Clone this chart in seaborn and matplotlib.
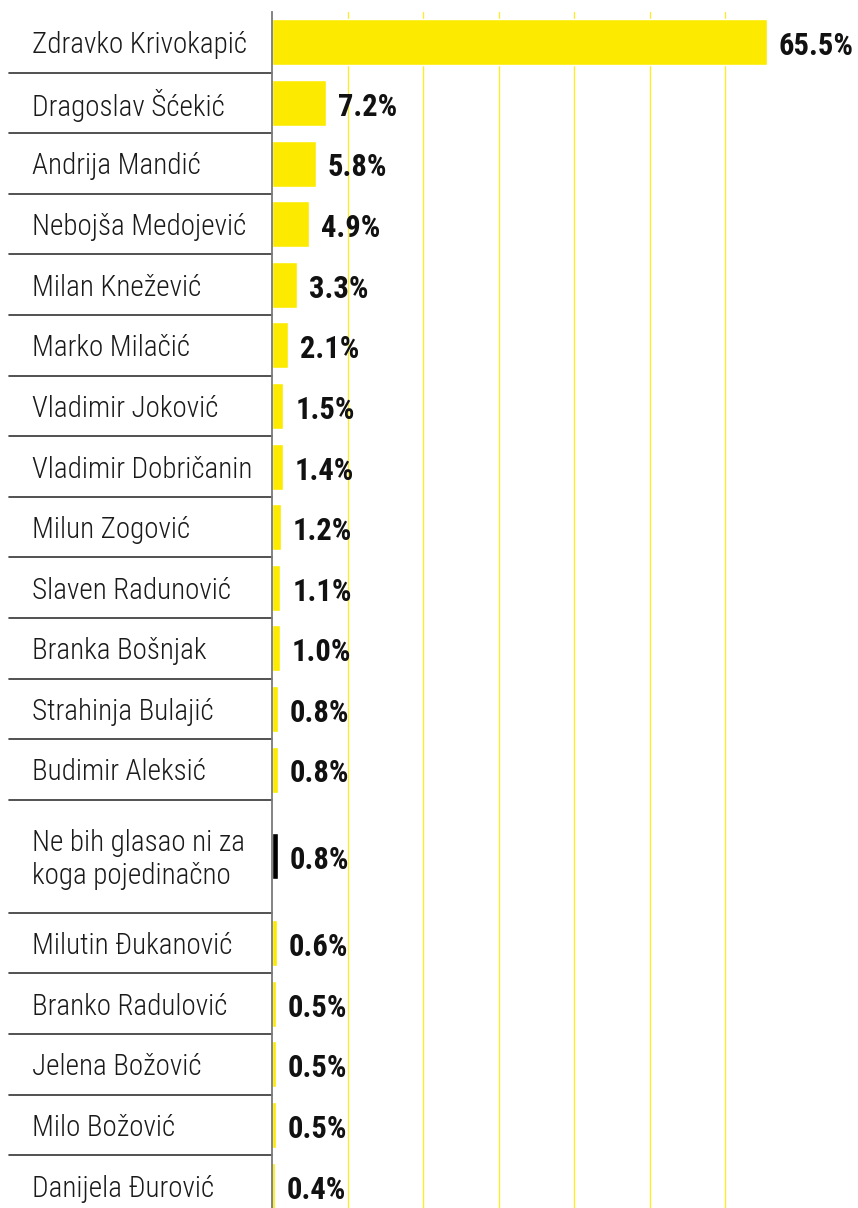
import matplotlib
matplotlib.use("Agg")
import matplotlib.pyplot as plt
import matplotlib.transforms as mtransforms
from matplotlib import font_manager
import numpy as np
import pandas as pd
import seaborn as sns

# ---------------- data ----------------
names = [
    "Zdravko Krivokapić", "Dragoslav Šćekić", "Andrija Mandić", "Nebojša Medojević",
    "Milan Knežević", "Marko Milačić", "Vladimir Joković", "Vladimir Dobričanin",
    "Milun Zogović", "Slaven Radunović", "Branka Bošnjak", "Strahinja Bulajić",
    "Budimir Aleksić", "Ne bih glasao ni za\nkoga pojedinačno", "Milutin Đukanović",
    "Branko Radulović", "Jelena Božović", "Milo Božović", "Danijela Đurović",
]
values = [65.5, 7.2, 5.8, 4.9, 3.3, 2.1, 1.5, 1.4, 1.2, 1.1, 1.0, 0.8, 0.8, 0.8,
          0.6, 0.5, 0.5, 0.5, 0.4]
grid_ticks = [10, 20, 30, 40, 50, 60]
special = "Ne bih glasao ni za\nkoga pojedinačno"

YELLOW = "#FCEA00"
BLACK = "#000000"

# ---------------- fonts ----------------
available = {f.name for f in font_manager.fontManager.ttflist}
def pick(cands):
    for c in cands:
        if c in available:
            return c
    return "DejaVu Sans"
label_font = pick(["Roboto Condensed", "Barlow Condensed", "Liberation Sans Narrow", "Open Sans Condensed", "Roboto"])
value_font = pick(["Roboto Condensed", "Barlow Condensed", "Liberation Sans Narrow", "Open Sans Condensed", "Roboto"])

sns.set_style("white")
plt.rcParams["font.family"] = [label_font, "DejaVu Sans"]

# ---------------- layout (rows) ----------------
W, H = 858, 1208
row_px = 60.6
heights = np.array([1.865 if "\n" in n else 1.0 for n in names])
tops = np.concatenate([[0], np.cumsum(heights)[:-1]])
centers = tops + heights / 2
bottoms = tops + heights

df = pd.DataFrame({"name": names, "value": values, "pos": centers})
palette = {n: (BLACK if n == special else YELLOW) for n in names}

fig = plt.figure(figsize=(W / 100, H / 100), dpi=100)
ax_left, ax_right, ax_top = 272, 767, 12
ax = fig.add_axes([ax_left / W, 0, (ax_right - ax_left) / W, (H - ax_top) / H])

sns.barplot(data=df, x="value", y="pos", hue="name", palette=palette,
            orient="h", native_scale=True, width=46 / row_px, saturation=1,
            legend=False, ax=ax, zorder=3)

ax.set_xlim(0, max(values))
ax.set_ylim((H - ax_top) / row_px, 0)

ax.set_xticks(grid_ticks)
ax.set_xticklabels([])
ax.tick_params(axis="both", length=0)
ax.set_yticks([])
ax.set_xlabel("")
ax.set_ylabel("")
ax.grid(axis="x", color="#FCEB2E", linewidth=1.0, zorder=0)
ax.grid(axis="y", visible=False)
for s in ["top", "right", "bottom"]:
    ax.spines[s].set_visible(False)
ax.spines["left"].set_color("#7a7a7a")
ax.spines["left"].set_linewidth(1.3)
ax.spines["left"].set_zorder(5)

# category labels and separators
blend = mtransforms.blended_transform_factory(fig.transFigure, ax.transData)
blend_txt = mtransforms.offset_copy(blend, fig=fig, x=0, y=-3, units="dots")
for n, c, b in zip(names, centers, bottoms):
    ax.text(32 / W, c, n, transform=blend_txt, ha="left", va="center",
            fontsize=21, color="#1a1a1a", linespacing=1.2,
            family=[label_font, "DejaVu Sans"], fontweight="light", clip_on=False)
    ax.plot([9 / W, ax_left / W], [b, b], transform=blend, color="#333333",
            linewidth=1.2, clip_on=False, zorder=4)

# value labels
off = mtransforms.offset_copy(ax.transData, fig=fig, x=12, y=-4, units="dots")
for v, c in zip(values, centers):
    ax.text(v, c, f"{v:.1f}%", transform=off, ha="left", va="center",
            fontsize=22, fontweight="bold", color="#111111",
            family=[value_font, "DejaVu Sans"], clip_on=False, zorder=6)

fig.savefig("out.png", dpi=100)
